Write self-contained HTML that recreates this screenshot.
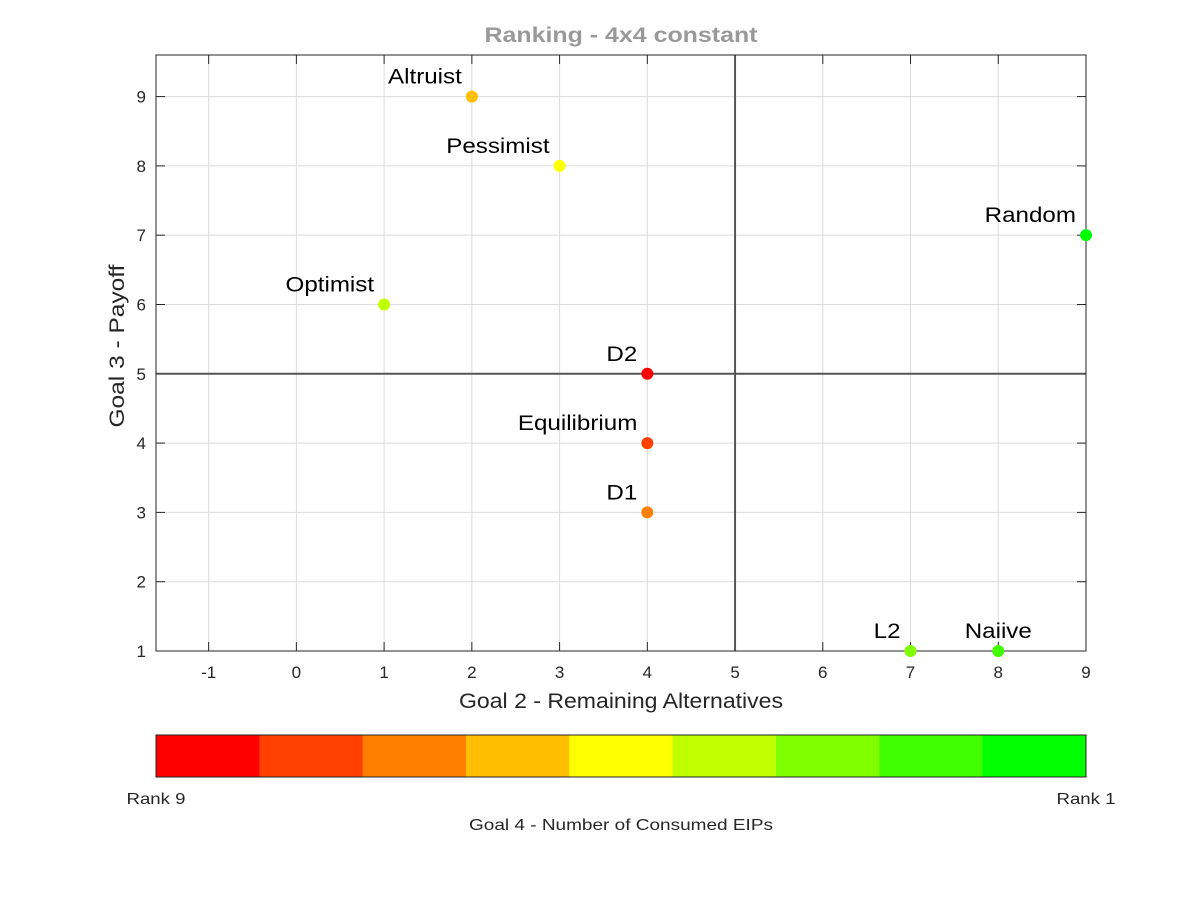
<!DOCTYPE html>
<html><head><meta charset="utf-8"><style>
body{margin:0;background:#fff;}
svg text{font-family:"Liberation Sans",Arial,sans-serif;}
</style></head><body>
<svg id="chart" width="1200" height="900" xmlns="http://www.w3.org/2000/svg">
<rect width="1200" height="900" fill="#fff"/>
<g id="grid"></g>
<g id="axes"></g>
<g id="points"></g>
<g id="colorbar"></g>
<text id="title" x="621" y="42" text-anchor="middle" font-size="21" font-weight="bold" fill="#999">Ranking - 4x4 constant</text>
</svg>
<script>
const names=["Altruist","Pessimist","Random","Optimist","D2","Equilibrium","D1","L2","Naiive"];
const xVals=[2,3,9,1,4,4,4,7,8];
const yVals=[9,8,7,6,5,4,3,1,1];
const ranks=[6,5,1,4,9,8,7,3,2];
const xTicks=[-1,0,1,2,3,4,5,6,7,8,9];
const yTicks=[1,2,3,4,5,6,7,8,9];
const rankColors=["#ff0000","#ff4000","#ff8000","#ffbf00","#ffff00","#bfff00","#80ff00","#40ff00","#00ff00"];
const L=156,R=1086,T=55,B=651,XMIN=-1.6,XMAX=9,YMIN=1,YMAX=9.6;
const sx=v=>L+(v-XMIN)/(XMAX-XMIN)*(R-L);
const sy=v=>B-(v-YMIN)/(YMAX-YMIN)*(B-T);
const NS="http://www.w3.org/2000/svg";
function mk(tag,attrs,parent,text){const e=document.createElementNS(NS,tag);for(const k in attrs)e.setAttribute(k,attrs[k]);if(text!==undefined)e.textContent=text;parent.appendChild(e);return e;}
function fit(el,w){el.setAttribute('textLength',w);el.setAttribute('lengthAdjust','spacingAndGlyphs');}
function scaleW(el,f){const w=el.getComputedTextLength();fit(el,w*f);}
const grid=document.getElementById('grid'),axes=document.getElementById('axes'),pts=document.getElementById('points'),cb=document.getElementById('colorbar');
fit(document.getElementById('title'),273);
xTicks.forEach(t=>{const x=sx(t);
 const g=mk('line',{x1:x,x2:x,y1:T,y2:B,stroke:'#dcdcdc','stroke-width':1},grid);
 
 mk('line',{x1:x,x2:x,y1:B,y2:B-9,stroke:'#262626'},axes);
 mk('line',{x1:x,x2:x,y1:T,y2:T+9,stroke:'#262626'},axes);
 const l=mk('text',{x:x,y:B+27,'text-anchor':'middle','font-size':17,fill:'#262626'},axes,String(t));
 
});
yTicks.forEach(t=>{const y=sy(t);
 const g=mk('line',{x1:L,x2:R,y1:y,y2:y,stroke:'#dcdcdc','stroke-width':1},grid);
 
 mk('line',{x1:L,x2:L+9,y1:y,y2:y,stroke:'#262626'},axes);
 mk('line',{x1:R,x2:R-9,y1:y,y2:y,stroke:'#262626'},axes);
 const l=mk('text',{x:L-10,y:y+6,'text-anchor':'end','font-size':17,fill:'#262626'},axes,String(t));
 
});
const vx=mk('line',{x1:sx(5),x2:sx(5),y1:T,y2:B,stroke:'#555','stroke-width':2},axes);

const hy=mk('line',{x1:L,x2:R,y1:sy(5),y2:sy(5),stroke:'#555','stroke-width':2},axes);

const box=mk('rect',{x:L,y:T,width:R-L,height:B-T,fill:'none',stroke:'#262626','stroke-width':1},axes);

const xt=mk('text',{x:(L+R)/2,y:708,'text-anchor':'middle','font-size':21,fill:'#262626'},axes,'Goal 2 - Remaining Alternatives');

fit(xt,324);
const yt=mk('text',{x:0,y:0,'text-anchor':'middle','font-size':21,fill:'#262626',transform:`translate(124,346) rotate(-90)`},axes,'Goal 3 - Payoff');

fit(yt,163);
names.forEach((n,i)=>{const x=sx(xVals[i]),y=sy(yVals[i]);
 const c=mk('circle',{cx:x,cy:y,r:6,fill:rankColors[9-ranks[i]]},pts);
 
 const centered=(n==='Naiive');
 const t=mk('text',{x:centered?x:x-10,y:y-13,'text-anchor':centered?'middle':'end','font-size':21,fill:'#000'},pts,n);
 
 scaleW(t,1.15);
});
const cw=(R-L)/9;
rankColors.forEach((col,i)=>{const r=mk('rect',{x:L+i*cw,y:735,width:cw+0.5,height:42,fill:col},cb);
 });
const cf=mk('rect',{x:L,y:735,width:R-L,height:42,fill:'none',stroke:'#262626'},cb);

const l9=mk('text',{x:L,y:804,'text-anchor':'middle','font-size':16,fill:'#262626'},cb,'Rank 9');

fit(l9,59);
const l1=mk('text',{x:R,y:804,'text-anchor':'middle','font-size':16,fill:'#262626'},cb,'Rank 1');

fit(l1,59);
const ct=mk('text',{x:(L+R)/2,y:830,'text-anchor':'middle','font-size':16,fill:'#262626'},cb,'Goal 4 - Number of Consumed EIPs');

fit(ct,304);
</script>
</body></html>
